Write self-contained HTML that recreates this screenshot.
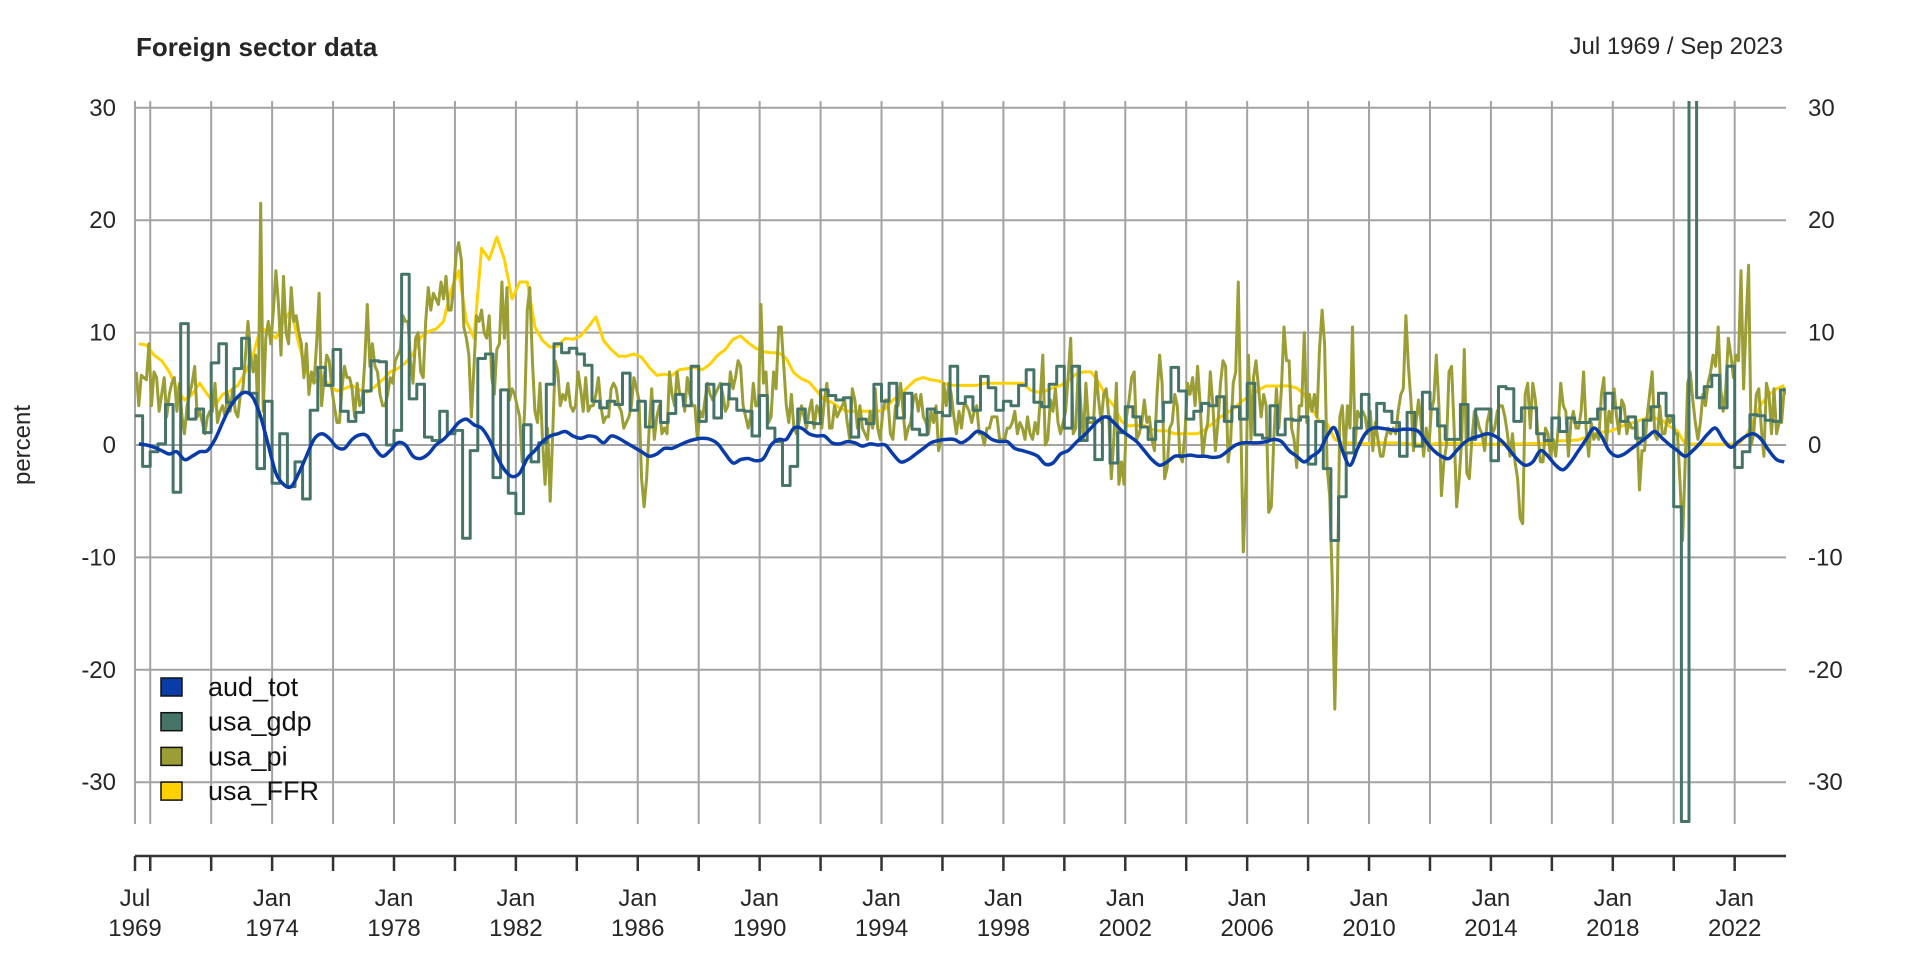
<!DOCTYPE html>
<html><head><meta charset="utf-8"><style>
html,body{margin:0;padding:0;background:#fff;}
svg{display:block;font-family:"Liberation Sans",Arial,sans-serif;}
</style></head><body>
<svg id="chart" width="1920" height="960" viewBox="0 0 1920 960">
<defs><clipPath id="plotclip"><rect x="135" y="101" width="1651" height="723"/></clipPath></defs>
<text x="136" y="56" font-size="26" font-weight="bold" fill="#262626">Foreign sector data</text>
<text x="1783" y="54" font-size="24" fill="#262626" text-anchor="end">Jul 1969 / Sep 2023</text>
<text transform="translate(30,445) rotate(-90)" font-size="24" fill="#262626" text-anchor="middle">percent</text>
<g id="grid"></g>
<g id="axes"></g>
<g id="series" clip-path="url(#plotclip)"></g>
<g id="legend"></g>
</svg>
<script>
const yTicks=[-30,-20,-10,0,10,20,30];
const xLabelYears=[1974,1978,1982,1986,1990,1994,1998,2002,2006,2010,2014,2018,2022];
const seriesNames=["aud_tot","usa_gdp","usa_pi","usa_FFR"];
const seriesColors=["#0a3ca8","#467468","#9a9e34","#ffd100"];
// quarterly from 1969Q3
const audTot=[0.1,0.0,
-0.2,-0.5,-0.8,-0.6, -1.3,-1.0,-0.6,-0.5, 0.5,2.0,3.4,4.3, 4.7,4.2,2.5,0.0, -2.5,-3.5,-3.7,-2.5,
-1.0,0.5,1.0,0.6, -0.2,-0.3,0.5,0.9, 0.8,-0.3,-1.0,-0.5, 0.2,0.0,-1.0,-1.2, -0.8,0.0,0.5,1.2,
2.0,2.3,1.8,1.5, 0.5,-1.0,-2.2,-2.8, -2.5,-1.2,-0.5,0.3, 0.8,1.0,1.2,0.8, 0.6,0.8,0.7,0.2,
0.8,0.6,0.2,-0.2, -0.6,-1.0,-0.8,-0.3, -0.3,0.0,0.3,0.5, 0.6,0.5,0.1,-0.8, -1.6,-1.3,-1.2,-1.4,
-1.2,0.0,0.5,0.5, 1.5,1.5,1.0,0.8, 0.8,0.2,0.1,0.3, 0.2,-0.1,0.1,0.0, 0.0,-0.8,-1.5,-1.3,
-0.8,-0.3,0.2,0.4, 0.5,0.5,0.2,0.6, 1.2,1.0,0.5,0.3, 0.3,-0.3,-0.5,-0.7, -1.0,-1.7,-1.6,-0.8,
-0.5,0.2,0.8,1.5, 2.2,2.5,2.0,1.3, 0.8,0.3,-0.5,-1.3, -1.8,-1.5,-1.0,-1.0, -0.9,-1.0,-1.0,-1.1,
-1.0,-0.5,0.0,0.2, 0.2,0.2,0.3,0.5, 0.3,-0.5,-1.0,-1.5, -1.0,-0.5,0.8,1.5, -0.5,-1.8,-0.3,1.0,
1.5,1.5,1.4,1.3, 1.4,1.4,1.2,0.3, -0.5,-1.0,-1.2,-0.5, 0.2,0.6,0.8,1.0, 0.8,0.3,-0.5,-1.3,
-1.8,-1.5,-0.5,-1.0, -1.8,-2.2,-1.5,-0.5, 0.5,1.5,0.8,-0.5, -1.0,-0.8,-0.3,0.2, 0.7,1.2,0.6,0.0,
-0.5,-1.0,-0.5,0.2, 1.0,1.5,0.5,-0.2, 0.3,0.8,1.0,0.5, -0.5,-1.3,-1.5];
const usaGdp=[2.6,-1.9,
-0.6,0.1,3.6,-4.2, 10.8,2.3,3.2,1.1, 7.3,9.0,3.8,6.8, 9.5,4.6,-2.1,3.9, -3.4,1.0,-3.7,-1.5,
-4.8,3.1,6.9,5.3, 8.5,3.0,2.1,2.9, 4.8,7.5,7.4,0.0, 1.3,15.2,4.1,5.4, 0.7,0.4,3.0,1.0,
1.3,-8.3,-0.5,7.7, 8.1,-2.9,4.9,-4.3, -6.1,1.8,-1.5,0.2, 5.4,9.0,8.2,8.6, 8.1,7.1,3.9,3.3,
3.9,3.6,6.4,3.1, 3.9,1.6,3.9,2.0, 2.8,4.5,3.5,7.0, 2.1,5.4,2.4,5.4, 4.1,3.1,3.0,0.8,
4.4,1.5,0.3,-3.6, -1.9,3.2,2.0,1.9, 4.9,4.4,4.0,4.2, 0.7,2.3,1.9,5.4, 3.9,5.5,2.4,4.6,
1.4,0.9,3.2,2.9, 2.6,7.0,3.7,4.3, 3.1,6.1,5.1,3.1, 3.9,3.5,5.3,6.7, 3.8,3.4,5.4,7.0,
1.5,7.0,0.4,2.4, -1.3,2.5,-1.6,1.1, 3.4,2.5,1.6,0.5, 2.1,3.8,6.9,4.8, 2.3,3.0,3.7,3.5,
4.3,2.1,3.4,2.3, 5.5,0.9,0.6,3.5, 0.9,2.3,2.2,2.5, -1.7,2.1,-2.1,-8.5, -4.6,-0.7,1.5,4.5,
1.5,3.7,3.0,2.0, -1.0,2.9,-0.1,4.7, 3.2,1.7,0.5,0.5, 3.6,0.5,3.2,3.2, -1.4,5.2,5.0,2.1,
3.3,3.3,1.0,0.4, 2.4,1.2,2.4,2.0, 2.0,2.3,3.2,4.6, 3.3,2.1,2.5,0.6, 2.2,3.4,4.6,2.6,
-5.5,-33.5,31,4.2, 5.2,6.2,3.3,7.0, -2.0,-0.6,2.7,2.6, 2.2,2.1,4.9];
// monthly from Jul 1969
const usaPi=[6.5,3.5,6.2,6.0,5.8,9.0,
3.5,6.5,6.0,3.0,4.5,6.0,2.5,4.5,5.5,6.0,3.0,5.5,
2.5,1.0,3.5,4.5,5.5,7.0,2.5,3.0,2.0,1.0,2.5,3.0,
3.0,5.5,2.0,3.0,3.5,2.5,4.5,3.0,5.0,3.0,2.5,4.5,
5.0,8.0,11.0,8.0,6.5,8.0,2.5,21.5,3.0,9.5,11.0,9.0,
12.0,15.5,12.5,8.0,15.0,10.0,9.0,14.0,11.0,11.5,10.0,9.0,
6.0,9.0,4.5,6.5,5.5,9.0,13.5,3.5,6.0,8.0,7.5,5.0,
3.5,2.0,2.0,5.0,7.0,6.0,6.0,5.0,2.5,5.5,3.5,4.0,
7.5,12.5,7.0,9.0,7.0,6.5,4.5,3.5,3.5,4.5,6.0,5.5,
7.5,8.0,8.5,11.5,11.0,11.0,7.5,5.5,9.5,10.0,6.5,6.0,
11.0,14.0,12.0,13.5,13.0,12.5,14.5,13.0,15.0,12.0,12.0,14.0,
17.0,18.0,16.5,10.5,9.5,8.0,2.5,7.0,11.5,11.0,12.0,10.0,
9.5,11.5,6.0,4.5,8.5,9.0,14.5,9.5,14.0,4.0,5.0,4.5,
3.5,2.5,-1.5,3.5,12.0,14.0,7.5,3.0,2.0,5.5,0.5,-3.5,
1.5,-5.0,1.0,7.5,6.5,3.5,4.5,4.0,5.5,3.5,3.0,3.5,
6.5,5.0,3.0,6.0,3.0,3.5,3.5,4.5,6.0,3.5,2.0,2.5,
2.5,5.0,5.5,5.0,3.5,3.0,1.5,2.0,2.5,3.5,6.0,5.0,
4.0,-3.0,-5.5,-3.0,1.5,5.0,0.5,2.5,3.5,1.0,1.5,1.0,
6.5,4.5,3.5,6.5,4.5,4.5,3.0,6.0,4.5,3.5,3.5,0.5,
3.0,2.5,4.0,5.5,4.5,4.0,4.5,5.0,5.5,4.5,3.0,3.5,
6.5,5.0,6.0,7.5,7.0,3.5,2.5,1.5,2.5,5.5,3.5,3.5,
12.5,5.5,6.5,2.0,2.5,6.5,5.0,10.5,10.5,7.0,3.5,2.0,
4.5,1.5,1.0,2.0,3.5,2.5,1.5,3.0,4.0,1.5,3.5,3.0,
1.5,4.0,5.5,1.5,1.5,3.5,2.5,3.0,3.5,4.0,2.0,0.5,
5.0,4.0,1.5,3.5,1.5,1.0,0.5,3.0,1.5,5.0,1.5,0.5,
3.0,4.0,4.0,1.0,0.5,3.5,3.5,5.5,3.0,0.5,1.5,2.0,
4.0,4.5,3.0,4.5,2.5,2.0,1.0,3.0,2.0,3.5,-0.5,0.5,
5.5,3.5,5.5,4.5,2.5,1.0,3.0,1.5,3.5,3.5,3.0,2.0,
3.0,3.5,1.0,1.0,0.0,1.5,1.5,2.5,2.5,2.5,0.5,0.5,
0.5,1.5,1.5,2.0,3.0,1.0,2.0,1.5,0.5,2.5,1.0,0.5,
2.0,1.0,4.0,8.0,0.0,0.5,4.0,3.0,5.0,2.0,1.0,2.0,
3.0,6.0,9.5,1.0,1.5,7.0,3.5,0.5,5.5,2.0,2.0,2.0,
6.5,4.0,2.0,4.5,5.0,2.5,-3.0,0.5,5.5,-3.5,-1.5,-3.5,
2.5,4.0,6.0,6.5,0.5,1.0,2.0,4.0,2.0,2.5,0.5,-0.5,
4.5,8.0,5.5,-3.0,-2.0,1.5,2.0,4.5,3.5,-1.0,-1.5,1.0,
5.5,4.5,6.0,3.5,7.0,3.5,-1.0,1.0,2.0,6.5,3.5,-0.5,
2.0,5.5,7.5,7.0,-1.5,0.5,5.5,6.5,14.5,2.0,-9.5,-3.5,
8.0,0.5,6.0,7.5,5.0,2.5,4.5,3.5,-6.0,-5.5,0.5,5.0,
1.5,5.0,10.5,7.5,7.5,1.5,0.5,-2.0,3.5,3.5,10.0,2.0,
4.5,3.0,4.5,2.5,8.5,12.0,9.0,-2.0,-4.5,-12.0,-23.5,-13.5,
2.5,3.5,-1.0,3.5,1.5,10.5,0.0,3.0,2.5,3.0,2.5,1.0,
3.0,-0.5,2.0,0.5,-1.0,-1.0,0.5,1.5,1.0,1.5,1.0,3.0,
4.5,5.0,11.5,7.0,4.0,-0.5,2.0,4.0,2.0,-1.0,1.5,-0.5,
3.0,4.0,8.0,3.5,-4.5,-1.5,0.0,6.5,7.0,1.5,-5.5,-3.0,
0.5,8.5,-2.5,-3.0,0.5,3.0,2.5,1.5,1.0,-0.5,2.0,3.0,
1.0,1.5,3.0,3.5,3.5,2.5,1.0,-1.0,1.0,-1.5,-3.0,-6.5,
-7.0,4.5,5.5,1.5,5.5,4.0,1.0,-1.5,-1.5,1.5,1.0,-1.0,
0.5,-1.0,1.5,5.5,3.5,3.0,-1.0,2.0,3.0,1.5,1.5,3.0,
6.5,1.5,-1.0,2.0,0.5,1.0,0.5,4.5,6.0,0.0,3.0,2.0,
5.0,2.5,1.0,4.0,3.5,1.0,2.0,1.5,1.5,2.0,-4.0,-0.5,
-0.5,2.5,4.5,6.5,1.0,0.5,3.5,1.0,1.0,2.5,2.0,2.5,
1.0,1.0,-3.5,-8.5,-1.5,5.5,6.5,4.0,2.0,0.5,2.0,4.5,
3.5,5.5,6.5,8.0,7.0,10.5,5.0,3.0,5.0,9.5,8.0,6.0,
8.0,7.5,15.5,5.0,11.0,16.0,0.0,1.0,4.5,5.0,1.5,-1.0,
5.5,4.5,1.0,5.0,1.0,2.0,2.0,5.0,4.5];
// quarterly from 1969Q3
const usaFfr=[9.0,8.9,
8.0,7.5,6.5,5.0, 4.0,4.5,5.5,4.5, 3.5,4.5,4.8,5.3, 6.5,8.0,10.5,10.0, 9.5,11.0,12.0,9.0,
6.5,5.5,6.2,5.3, 4.8,5.0,5.3,4.9, 4.7,5.2,5.8,6.5, 6.8,7.3,8.1,9.6, 10.1,10.3,11.0,13.8,
15.5,11.0,9.5,17.5, 16.5,18.5,16.5,13.0, 14.5,14.5,10.5,9.3, 8.7,8.8,9.5,9.4, 9.7,10.5,11.4,9.3,
8.5,7.9,7.9,8.1, 7.8,6.9,6.2,6.3, 6.2,6.7,6.8,6.9, 6.7,7.2,8.0,8.5, 9.4,9.7,9.1,8.6,
8.3,8.2,8.2,7.7, 6.4,5.9,5.6,4.8, 4.0,3.8,3.3,3.0, 3.0,3.0,3.0,3.0, 3.2,4.0,4.5,5.2,
5.8,6.0,5.8,5.7, 5.4,5.3,5.3,5.3, 5.3,5.5,5.5,5.5, 5.5,5.5,5.5,4.9, 4.7,4.8,5.1,5.3,
5.7,6.3,6.5,6.5, 5.6,4.3,3.5,2.1, 1.7,1.75,1.74,1.4, 1.25,1.25,1.0,1.0, 1.0,1.0,1.4,1.95,
2.5,2.9,3.4,4.0, 4.4,4.9,5.25,5.25, 5.26,5.25,5.07,4.5, 3.2,2.1,1.9,0.5, 0.2,0.2,0.15,0.12,
0.13,0.19,0.19,0.19, 0.15,0.09,0.08,0.07, 0.1,0.15,0.14,0.16, 0.14,0.12,0.08,0.09, 0.07,0.09,0.09,0.1,
0.11,0.13,0.14,0.16, 0.36,0.37,0.4,0.45, 0.7,0.95,1.15,1.2, 1.45,1.75,1.95,2.2, 2.4,2.4,2.2,1.65,
1.25,0.05,0.09,0.09, 0.08,0.07,0.08,0.08, 0.12,0.77,2.2,3.65, 4.5,5.0,5.3];

const X0=135, XPY=30.47, T0=1969.5, Y0=445, YPU=11.24;
function xs(t){return X0+(t-T0)*XPY;}
function ys(v){return Y0-v*YPU;}
const NS="http://www.w3.org/2000/svg";
function mk(tag,attrs,parent){const e=document.createElementNS(NS,tag);for(const k in attrs)e.setAttribute(k,attrs[k]);parent.appendChild(e);return e;}

const grid=document.getElementById('grid');
const axes=document.getElementById('axes');
// horizontal grid + labels
yTicks.forEach(v=>{
  const l=mk('line',{x1:135,x2:1786,y1:ys(v),y2:ys(v),stroke:'#a3a3a3','stroke-width':2},grid);
  
  
  const a=mk('text',{x:116,y:ys(v)+8,'font-size':24,fill:'#262626','text-anchor':'end'},axes);
  a.textContent=v;
  
  
  const b=mk('text',{x:1808,y:ys(v)+8,'font-size':24,fill:'#262626'},axes);
  b.textContent=v;
  
  
});
// vertical grid
const vlines=[T0];
for(let y=1970;y<=2022;y+=2)vlines.push(y);
vlines.forEach(t=>{
  const l=mk('line',{x1:xs(t),x2:xs(t),y1:101,y2:824,stroke:'#a3a3a3','stroke-width':2},grid);
  
  
  const tk=mk('line',{x1:xs(t),x2:xs(t),y1:856,y2:871,stroke:'#333','stroke-width':2.5},axes);
  
  
});
const axl=mk('line',{x1:135,x2:1786,y1:856,y2:856,stroke:'#333','stroke-width':2.5},axes);


function xlab(t,m,yr){
  const g=mk('text',{x:xs(t),y:906,'font-size':24,fill:'#262626','text-anchor':'middle'},axes);
  g.textContent=m;
  
  
  const h=mk('text',{x:xs(t),y:936,'font-size':24,fill:'#262626','text-anchor':'middle'},axes);
  h.textContent=yr;
  
  
}
xlab(T0,'Jul','1969');
xLabelYears.forEach(y=>xlab(y,'Jan',String(y)));

const series=document.getElementById('series');
// FFR
(function(){let d='';usaFfr.forEach((v,i)=>{const t=T0+i*0.25+0.125;d+=(i?'L':'M')+xs(t).toFixed(1)+','+ys(v).toFixed(1);});
const p=mk('path',{d:d,fill:'none',stroke:seriesColors[3],'stroke-width':3,'stroke-linejoin':'round'},series);

})();
// pi
(function(){let d='';usaPi.forEach((v,i)=>{const t=T0+i/12+1/24;d+=(i?'L':'M')+xs(t).toFixed(1)+','+ys(v).toFixed(1);});
const p=mk('path',{d:d,fill:'none',stroke:seriesColors[2],'stroke-width':3,'stroke-linejoin':'round'},series);

})();
// gdp steps
(function(){let d='';usaGdp.forEach((v,i)=>{const t0=T0+i*0.25,t1=Math.min(t0+0.25,2023.67);d+=(i?'L':'M')+xs(t0).toFixed(1)+','+ys(v).toFixed(1)+'L'+xs(t1).toFixed(1)+','+ys(v).toFixed(1);});
const p=mk('path',{d:d,fill:'none',stroke:seriesColors[1],'stroke-width':3,'stroke-linejoin':'round'},series);

})();
// aud smooth (catmull-rom)
(function(){const pts=audTot.map((v,i)=>[xs(T0+i*0.25+0.125),ys(v)]);
let d='M'+pts[0][0].toFixed(1)+','+pts[0][1].toFixed(1);
for(let i=0;i<pts.length-1;i++){const p0=pts[Math.max(0,i-1)],p1=pts[i],p2=pts[i+1],p3=pts[Math.min(pts.length-1,i+2)];
const c1=[p1[0]+(p2[0]-p0[0])/6,p1[1]+(p2[1]-p0[1])/6],c2=[p2[0]-(p3[0]-p1[0])/6,p2[1]-(p3[1]-p1[1])/6];
d+='C'+c1[0].toFixed(1)+','+c1[1].toFixed(1)+' '+c2[0].toFixed(1)+','+c2[1].toFixed(1)+' '+p2[0].toFixed(1)+','+p2[1].toFixed(1);}
const p=mk('path',{d:d,fill:'none',stroke:seriesColors[0],'stroke-width':3.5,'stroke-linejoin':'round'},series);

})();

// legend
const legend=document.getElementById('legend');
seriesNames.forEach((n,i)=>{
  const cy=687+i*34.7;
  const r=mk('rect',{x:161,y:cy-9,width:21,height:18,fill:seriesColors[i],stroke:'#111','stroke-width':1.5},legend);
  
  
  const t=mk('text',{x:208,y:cy+9,'font-size':27,fill:'#111'},legend);
  t.textContent=n;
  
  
});
</script>
</body></html>
